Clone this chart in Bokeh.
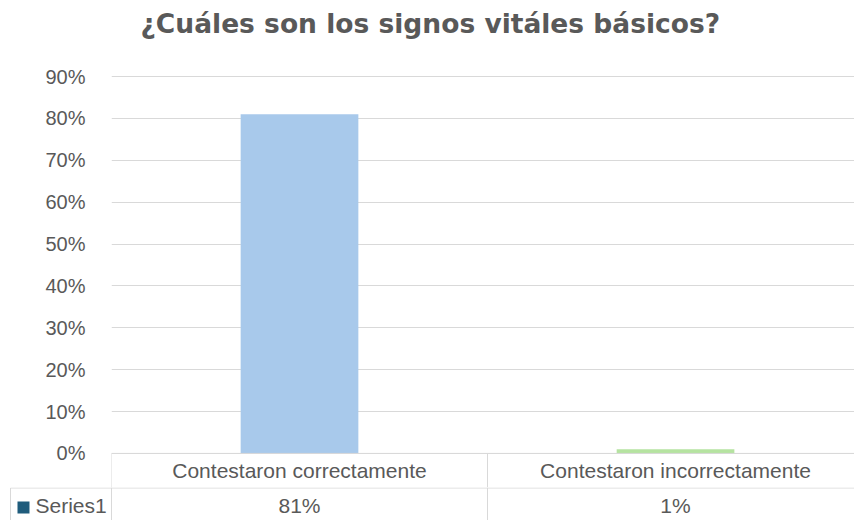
from bokeh.plotting import figure
from bokeh.layouts import column, row
from bokeh.models import Range1d, FixedTicker, NumeralTickFormatter
from bokeh.embed import file_html
from bokeh.resources import INLINE
from bokeh.core.properties import value

# ---- data ----
chart_title = "¿Cuáles son los signos vitáles básicos?"
categories = ["Contestaron correctamente", "Contestaron incorrectamente"]
values = [0.81, 0.01]
bar_colors = ["#A8C9EB", "#B5E3A0"]
series_name = "Series1"
series_color = "#1F5C7C"
y_ticks = [0.0, 0.1, 0.2, 0.3, 0.4, 0.5, 0.6, 0.7, 0.8, 0.9]

TEXT = "#595959"
GRID = "#D9D9D9"
FONT = "Liberation Sans"
ROW = 0.0814          # header row height (value units)
HEAD_Y = -0.0419      # header text centre

n = len(categories)
xs = [i + 0.5 for i in range(n)]
X_END = 1.976         # visible part of the category axis
X_LEFT = -0.2952      # table label column (left of the plot area)

# ---------------- chart + header row ----------------
p = figure(width=854, height=487,
           x_range=Range1d(0, X_END),
           y_range=Range1d(-ROW, 0.979),
           output_backend="svg", toolbar_location=None,
           min_border_left=111, min_border_right=0,
           min_border_bottom=0, min_border_top=0)

p.title.text = chart_title
p.title.align = "left"
p.title.offset = 29
p.title.text_font = "DejaVu Sans"
p.title.text_font_size = "26.5px"
p.title.text_font_style = "bold"
p.title.text_color = TEXT
p.title.standoff = 10

p.outline_line_color = None
p.xaxis.visible = False
p.xgrid.visible = False
p.yaxis.ticker = FixedTicker(ticks=y_ticks)
p.yaxis.formatter = NumeralTickFormatter(format="0%")
p.yaxis.axis_line_color = None
p.yaxis.major_tick_line_color = None
p.yaxis.minor_tick_line_color = None
p.yaxis.major_label_standoff = 20
p.yaxis.major_label_text_font = FONT
p.yaxis.major_label_text_font_size = "20px"
p.yaxis.major_label_text_color = TEXT
p.ygrid.ticker = FixedTicker(ticks=y_ticks)
p.ygrid.grid_line_color = GRID

p.vbar(x=xs, top=values, width=0.313, fill_color=bar_colors, line_color=None)

p.segment(x0=[0] + list(range(n)), y0=[0] + [0] * n,
          x1=[n] + list(range(n)), y1=[0] + [-0.2] * n,
          line_color=GRID, line_width=1)
p.text(x=xs, y=[HEAD_Y] * n, text=categories,
       text_align="center", text_baseline="middle", text_font=value(FONT),
       text_font_size="21px", text_color=TEXT)

# ---------------- series row of the data table ----------------
t = figure(width=854, height=33,
           x_range=Range1d(X_LEFT, X_END), y_range=Range1d(0, 1),
           output_backend="svg", toolbar_location=None,
           min_border_left=0, min_border_right=0,
           min_border_bottom=0, min_border_top=0)
t.axis.visible = False
t.grid.visible = False
t.outline_line_color = None

t.segment(x0=[-0.2686, -0.2686] + list(range(n)), y0=[0.985, 0.985] + [0] * n,
          x1=[n, -0.2686] + list(range(n)), y1=[0.985, -1] + [1] * n,
          line_color=GRID, line_width=1)
t.quad(left=[-0.25], right=[-0.2181], top=[0.576], bottom=[0.212],
       fill_color=series_color, line_color=None)
t.text(x=[-0.2021], y=[0.455], text=[series_name],
       text_align="left", text_baseline="middle", text_font=value(FONT),
       text_font_size="21px", text_color=TEXT)
t.text(x=xs, y=[0.455] * n,
       text=[f"{round(v * 100)}%" for v in values],
       text_align="center", text_baseline="middle", text_font=value(FONT),
       text_font_size="21px", text_color=TEXT)

layout = column(p, row(t, spacing=0), spacing=0)
open("out.html", "w").write(file_html(layout, INLINE))
